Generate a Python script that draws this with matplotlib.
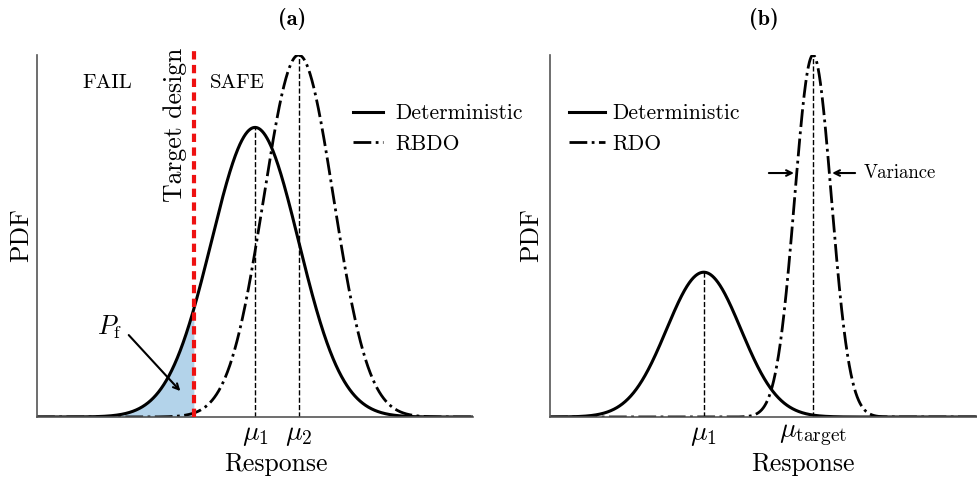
import numpy as np
from matplotlib import pyplot as plt

plt.rcParams['font.family'] = 'cmr10'
plt.rcParams['mathtext.fontset'] = 'cm'
plt.rcParams['axes.formatter.use_mathtext'] = True

# Gaussian response curves: (mean, std, peak height)
det_a = (5.0, 1.0, 0.80)
rbdo_a = (6.0, 0.8, 1.00)
target_a = 3.6

det_b = (3.6, 0.87, 0.40)
rdo_b = (6.16, 0.43, 1.00)

ticks_a = [det_a[0], rbdo_a[0]]
ticklabels_a = [r'$\mu_1$', r'$\mu_2$']
ticks_b = [det_b[0], rdo_b[0]]
ticklabels_b = [r'$\mu_1$', r'$\mu_{\mathrm{target}}$']

variance_y = 0.674


def gauss(x, p):
    mu, sd, h = p
    return h * np.exp(-(x - mu) ** 2 / (2 * sd ** 2))


def style_axes(ax):
    for s in ['top', 'right']:
        ax.spines[s].set_visible(False)
    for s in ['left', 'bottom']:
        ax.spines[s].set_color('#555555')
        ax.spines[s].set_linewidth(1.2)
    ax.set_xlim(0, 10)
    ax.set_ylim(0, 1)
    ax.set_yticks([])
    ax.tick_params(axis='x', length=0, pad=3, labelsize=20)


fig = plt.figure(figsize=(9.77, 4.78), dpi=100)
ax1 = fig.add_axes([0.0379, 0.1276, 0.4463, 0.7573])
ax2 = fig.add_axes([0.563, 0.1276, 0.437, 0.7573])

x = np.linspace(0, 10, 2000)

# (a) deterministic vs RBDO
style_axes(ax1)
y_det = gauss(x, det_a)
y_rb = gauss(x, rbdo_a)
ax1.fill_between(x, 0, y_det, where=x <= target_a, color='#b3d3ea', lw=0)
ax1.plot(x, y_det, color='black', lw=2.2, label='Deterministic')
ax1.plot(x, y_rb, color='black', lw=2.0, ls='-.', label='RBDO')
ax1.plot([det_a[0]] * 2, [0, det_a[2]], color='black', lw=1, ls='--')
ax1.plot([rbdo_a[0]] * 2, [0, rbdo_a[2]], color='black', lw=1, ls='--')
ax1.plot([target_a] * 2, [0, 1.01], color='#ee1111', lw=3, ls=(0, (2, 1.3)), clip_on=False, zorder=5)
ax1.set_xticks(ticks_a)
ax1.set_xticklabels(ticklabels_a)
ax1.text(1.6, 0.923, 'FAIL', fontsize=15, ha='center', va='center')
ax1.text(4.59, 0.923, 'SAFE', fontsize=15, ha='center', va='center')
ax1.text(3.17, 1.02, 'Target design', fontsize=18.5, rotation=90, ha='center', va='top')
ax1.annotate('', xy=(3.33, 0.066), xytext=(2.06, 0.232),
             arrowprops=dict(arrowstyle='->', color='black', lw=1.5))
ax1.text(1.67, 0.249, r'$P_{\mathrm{f}}$', fontsize=19, ha='center', va='center')
ax1.legend(loc='upper left', bbox_to_anchor=(0.725, 0.865), frameon=False, fontsize=15.5,
           handlelength=1.4, handletextpad=0.56, borderpad=0, borderaxespad=0, labelspacing=0.5)
ax1.set_xlabel('Response', fontsize=18.5)
ax1.xaxis.set_label_coords(0.548, -0.097)
ax1.set_ylabel('PDF', fontsize=18.5)
ax1.yaxis.set_label_coords(-0.01, 0.503)
ax1.set_title('(a)', fontsize=16, fontfamily='cmb10', x=0.585, y=1.06)

# (b) deterministic vs RDO
style_axes(ax2)
ax2.plot(x, gauss(x, det_b), color='black', lw=2.2, label='Deterministic')
ax2.plot(x, gauss(x, rdo_b), color='black', lw=2.0, ls='-.', label='RDO')
ax2.plot([det_b[0]] * 2, [0, det_b[2]], color='black', lw=1, ls='--')
ax2.plot([rdo_b[0]] * 2, [0, rdo_b[2]], color='black', lw=1, ls='--')
ax2.set_xticks(ticks_b)
ax2.set_xticklabels(ticklabels_b)
half = rdo_b[1] * np.sqrt(-2 * np.log(variance_y / rdo_b[2]))
ax2.annotate('', xy=(rdo_b[0] - half, variance_y), xytext=(5.06, variance_y),
             arrowprops=dict(arrowstyle='->', color='black', lw=1.5))
ax2.annotate('', xy=(rdo_b[0] + half, variance_y), xytext=(7.21, variance_y),
             arrowprops=dict(arrowstyle='->', color='black', lw=1.5))
ax2.text(7.35, variance_y, 'Variance', fontsize=13.5, ha='left', va='center')
ax2.legend(loc='upper left', bbox_to_anchor=(0.044, 0.865), frameon=False, fontsize=15.5,
           handlelength=1.7, handletextpad=0.3, borderpad=0, borderaxespad=0, labelspacing=0.5)
ax2.set_xlabel('Response', fontsize=18.5)
ax2.xaxis.set_label_coords(0.593, -0.097)
ax2.set_ylabel('PDF', fontsize=18.5)
ax2.yaxis.set_label_coords(-0.016, 0.503)
ax2.set_title('(b)', fontsize=16, fontfamily='cmb10', y=1.06)

plt.savefig('out.png', dpi=100)
